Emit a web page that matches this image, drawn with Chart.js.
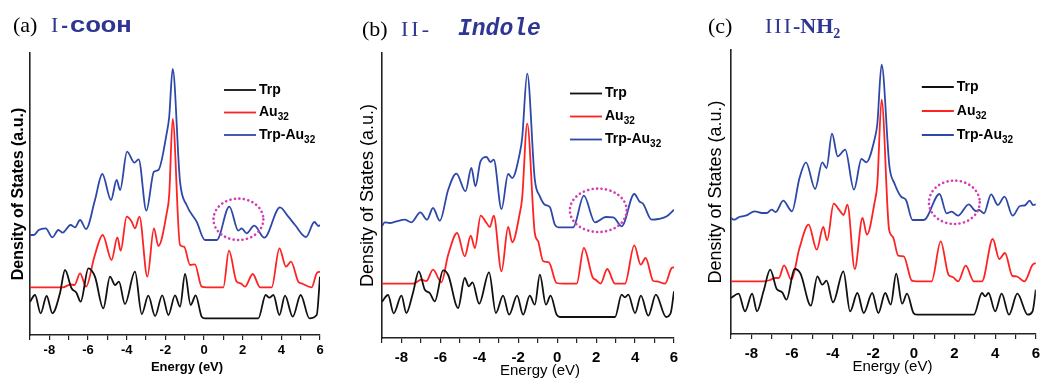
<!DOCTYPE html>
<html>
<head>
<meta charset="utf-8">
<script src="https://cdn.jsdelivr.net/npm/chart.js@4.4.0/dist/chart.umd.min.js"></script>
<style>
    body { margin: 0; background: #fff; width: 1046px; height: 379px; overflow: hidden; position: relative; }
    canvas { position: absolute; top: 0; }
    .ttl { position: absolute; white-space: nowrap; line-height: 1; color: #2e3592; z-index: 2; }
    .lab { font-family: "Liberation Serif", "Times New Roman", serif; color: #000; font-size: 22px; }
    .rom { font-family: "Liberation Serif", "Times New Roman", serif; font-size: 22px; }
    .mono { font-family: "Liberation Mono", "Courier New", monospace; font-weight: bold; }
</style>
</head>
<body>
<div class="ttl" style="left:13px;top:14px"><span class="lab">(a)</span></div>
<div class="ttl" style="left:51px;top:14px"><span class="rom">I</span><span class="mono" style="font-size:18px;margin-left:1px">-</span><span class="mono" style="font-size:19px;display:inline-block;transform:scaleX(1.35);transform-origin:left">COOH</span></div>
<div class="ttl" style="left:362px;top:18px"><span class="lab">(b)</span></div>
<div class="ttl" style="left:401px;top:18px"><span class="rom" style="letter-spacing:3px">II-</span></div>
<div class="ttl" style="left:458px;top:18px"><span class="mono" style="font-size:23px;font-style:italic">Indole</span></div>
<div class="ttl" style="left:708px;top:15px"><span class="lab">(c)</span></div>
<div class="ttl" style="left:765px;top:15px"><span class="rom" style="letter-spacing:2px">III</span><span class="rom" style="font-weight:bold">-NH<sub style="font-size:14px">2</sub></span></div>

<canvas id="panelA" width="335" height="379" style="left:0px"></canvas>
<canvas id="panelB" width="340" height="379" style="left:350px"></canvas>
<canvas id="panelC" width="350" height="379" style="left:696px"></canvas>

<script>
// energy window and series labels (same for the three panels)
const energyMin = -9;
const energyMax = 6;
const seriesNames = ['Trp', 'Au', 'Trp-Au'];
const seriesSubs = ['', '32', '32'];
const lineColors = ['#111111', '#ff2222', '#2d48a8'];

// (a) I-COOH
const trpA_E = [-9, -8.74, -8.45, -8.14, -7.84, -7.45, -7.19, -6.85, -6.6, -6.38, -5.98, -5.64, -5.21, -4.86, -4.6, -4.4, -4.09, -3.57, -3.22, -2.88, -2.53, -2.16, -1.84, -1.5, -1.24, -0.98, -0.69, -0.43, -0.12, 0.05, 2.81, 3.19, 3.38, 3.59, 3.9, 4.19, 4.59, 5.0, 5.45, 5.83, 6];
const trpA_D = [33.3, 40, 21.7, 39, 21.7, 41.7, 65, 46.7, 42.3, 33.3, 66.7, 58.3, 26.7, 58.3, 50, 53.3, 31, 63.3, 21, 39.3, 19, 39.7, 20, 39.7, 28.3, 61, 30, 39.7, 18.3, 16.7, 16.7, 40, 37.3, 40, 20, 39.3, 18.3, 40, 16.7, 20, 58.3];
const auA_E = [-9, -7.3, -6.9, -6.7, -6.41, -6.1, -5.67, -5.24, -4.78, -4.48, -4.31, -4.0, -3.74, -3.57, -3.34, -2.93, -2.59, -2.36, -1.93, -1.8, -1.62, -1.24, -1.03, -0.72, -0.47, -0.12, 0.14, 1.0, 1.29, 1.69, 1.9, 2.12, 2.52, 2.9, 3.5, 3.9, 4.24, 4.5, 4.88, 5.05, 5.57, 5.83, 6];
const auA_D = [47.7, 47.7, 50.5, 50, 61.7, 48.3, 78.3, 100, 75, 97.7, 84.3, 118.3, 113.3, 106.7, 118.3, 58.3, 106.7, 89, 121.7, 140, 216, 90, 88.3, 70, 70.7, 48.3, 47.7, 47.7, 84.3, 53.3, 51.7, 48.3, 61, 47.7, 47.7, 86.7, 68.3, 73.3, 53.3, 51.7, 47.7, 61.7, 63.3];
const mixA_E = [-9, -8.8, -8.55, -8.19, -7.84, -7.53, -7.31, -6.9, -6.67, -6.41, -6.1, -5.64, -5.26, -4.81, -4.52, -4.34, -3.98, -3.6, -3.38, -2.98, -2.59, -2.36, -1.93, -1.8, -1.62, -1.24, -0.9, -0.38, 0.05, 0.66, 1.31, 1.78, 1.95, 2.2, 2.6, 3.12, 3.93, 4.36, 4.71, 5.28, 5.71, 5.92, 6];
const mixA_D = [100, 100, 105, 106.7, 97.7, 105, 102.3, 110, 107.7, 115, 106, 135, 161, 135, 155, 145, 183.3, 172.3, 175.7, 124.3, 163.3, 165, 201.7, 218, 266, 153.3, 130, 113.3, 95, 95, 128.3, 104.3, 106.7, 101.7, 109.3, 97.3, 127.7, 118.3, 110, 98, 113, 109, 110];

// (b) II-Indole
const trpB_E = [-9, -8.69, -8.4, -8.0, -7.75, -7.41, -7.11, -6.8, -6.55, -6.29, -5.86, -5.6, -5.09, -4.75, -4.54, -4.35, -4.01, -3.5, -3.15, -2.78, -2.47, -2.06, -1.75, -1.41, -1.15, -0.89, -0.58, -0.34, -0.03, 0.14, 2.97, 3.31, 3.48, 3.65, 4.0, 4.3, 4.68, 5.07, 5.59, 5.83, 6];
const trpB_D = [36.3, 43, 24.7, 42.3, 25, 45, 66.7, 48.3, 45, 36.7, 67.7, 63, 30, 60, 51.7, 55.7, 34.3, 65.7, 25, 42.3, 23.3, 42.3, 23.3, 42.3, 33.3, 63.3, 33.3, 42.3, 23.3, 21, 21, 43.3, 40.7, 43.3, 25, 42.3, 22.3, 43.3, 21, 25, 46.7];
const auB_E = [-9, -7.4, -6.98, -6.72, -6.38, -5.95, -5.6, -5.14, -4.75, -4.44, -4.23, -3.93, -3.63, -3.46, -3.26, -2.86, -2.52, -2.31, -1.92, -1.8, -1.54, -1.15, -0.98, -0.72, -0.43, -0.03, 0.31, 1.0, 1.37, 1.82, 1.99, 2.23, 2.57, 2.97, 3.48, 3.96, 4.29, 4.54, 4.94, 5.1, 5.54, 5.88, 6];
const auB_D = [54.3, 54.3, 58.3, 57, 68.3, 55.7, 83.3, 105, 81.7, 102.3, 90, 122.3, 115, 111, 122.3, 66.7, 111, 95.7, 125, 140, 214.3, 105, 96.7, 76.7, 75.7, 55, 54.3, 54.3, 90, 60.7, 58, 54.3, 69, 54.3, 54.3, 92.7, 73.3, 80, 57, 56.7, 54.3, 70, 70.7];
const mixB_E = [-9, -8.86, -8.6, -8.26, -7.83, -7.49, -7.03, -6.69, -6.38, -6.03, -5.6, -5.18, -4.71, -4.41, -4.2, -3.94, -3.63, -3.43, -3.26, -2.86, -2.52, -2.31, -1.92, -1.8, -1.54, -1.15, -0.89, -0.63, -0.38, -0.12, 0.05, 0.82, 1.37, 1.94, 2.5, 2.88, 3.31, 3.96, 4.22, 4.42, 4.85, 5.2, 5.63, 6];
const mixB_D = [111.7, 115.7, 115, 116.7, 118.3, 115.7, 125.7, 118.3, 130, 117.3, 148.3, 164.3, 146.7, 170, 151.7, 176.7, 181, 176, 178.3, 129, 164, 160, 185, 200, 264.3, 158.3, 141.7, 133.3, 131, 113.3, 110.7, 110.7, 142.3, 115.7, 121, 120.7, 111.7, 144, 136.7, 134, 118.3, 119, 121.7, 128.3];

// (c) III-NH2
const trpC_E = [-9, -8.63, -8.31, -7.96, -7.72, -7.4, -7.07, -6.75, -6.48, -6.27, -5.87, -5.58, -5.07, -4.75, -4.51, -4.3, -3.98, -3.47, -3.14, -2.78, -2.47, -2.05, -1.75, -1.41, -1.14, -0.87, -0.58, -0.34, -0.02, 0.14, 2.95, 3.35, 3.51, 3.67, 4.0, 4.32, 4.68, 5.09, 5.6, 5.84, 6];
const trpC_D = [36, 40.3, 22.7, 40.3, 22.7, 42.7, 64.3, 45, 41.7, 34.3, 65, 60.3, 28.3, 57.7, 49.3, 53.3, 31.7, 62.7, 22.7, 41, 21, 41, 21, 41, 29.3, 60.3, 30.3, 40.3, 21, 19.3, 19.3, 41, 37.7, 41, 22.7, 40.3, 19.3, 40.3, 19.3, 22.7, 44.3];
const auC_E = [-9, -7.4, -7.07, -6.83, -6.65, -6.39, -6.03, -5.63, -5.18, -4.78, -4.46, -4.27, -3.95, -3.66, -3.46, -3.27, -2.91, -2.53, -2.31, -1.94, -1.8, -1.59, -1.22, -1.03, -0.77, -0.5, -0.1, 0.14, 0.87, 1.32, 1.7, 1.91, 2.18, 2.55, 2.95, 3.35, 3.88, 4.2, 4.48, 4.85, 5.04, 5.44, 5.84, 6];
const auC_D = [52.7, 52.7, 54, 56, 56, 68.7, 54.3, 86, 109.3, 84.3, 107, 93.7, 130.3, 123.7, 119, 129.3, 65, 116, 99.3, 131, 150, 234.3, 104.3, 97, 78.3, 77.7, 53.3, 52.7, 52.7, 92.7, 59.3, 57, 52.7, 68.3, 52.7, 52.7, 95, 75, 81, 58, 57.7, 52.7, 69.3, 71];
const mixC_E = [-9, -8.84, -8.6, -8.28, -7.83, -7.48, -7.24, -7.0, -6.8, -6.43, -6.0, -5.63, -5.31, -4.86, -4.51, -4.3, -4.03, -3.75, -3.38, -2.95, -2.58, -2.34, -1.94, -1.8, -1.59, -1.2, -0.96, -0.63, -0.39, -0.07, 0.49, 1.26, 1.61, 1.85, 2.17, 2.7, 3.05, 3.2, 3.45, 3.8, 4.13, 4.46, 4.86, 5.22, 5.45, 5.7, 5.86, 6];
const mixC_D = [116, 114.3, 117, 118.3, 122.7, 121, 121, 124.3, 122, 133.3, 122.7, 156, 171.7, 145, 171.7, 166, 200.3, 177.7, 184.3, 144.3, 175, 171.7, 194.3, 210, 269.3, 167, 150.7, 137.3, 134, 114, 114, 140, 120.7, 122.3, 118.3, 129.7, 123, 124, 120.7, 139.7, 129, 137.3, 118.3, 128, 128.5, 133.3, 129, 129.5];

// dotted rings: [centre E, centre DOS, half width E, half height DOS]
const ringA = [1.78, 115.7, 1.29, 20.7];
const ringB = [2.11, 127.7, 1.46, 21.7];
const ringC = [1.99, 131.7, 1.25, 21.7];

function toPoints(es, ds) {
    return es.map((e, i) => ({ x: e, y: ds[i] }));
}

const panelExtras = {
    id: 'panelExtras',
    afterDatasetsDraw(chart, args, opts) {
        const { ctx, chartArea, scales: { x, y } } = chart;

        // magenta dotted ring
        const r = opts.ring;
        const cx = x.getPixelForValue(r[0]);
        const cy = y.getPixelForValue(r[1]);
        const rx = x.getPixelForValue(r[0] + r[2]) - cx;
        const ry = cy - y.getPixelForValue(r[1] + r[3]);
        ctx.save();
        ctx.strokeStyle = '#d43cb4';
        ctx.lineWidth = 2.6;
        ctx.lineCap = 'round';
        ctx.setLineDash([0.1, 4.4]);
        ctx.beginPath();
        ctx.ellipse(cx, cy, rx, ry, 0, 0, Math.PI * 2);
        ctx.stroke();
        ctx.restore();

        // legend with subscripts
        ctx.save();
        const x0 = chartArea.right - opts.legendRight;
        chart.data.datasets.forEach((ds, i) => {
            const ly = opts.legendTop + i * opts.legendGap;
            ctx.strokeStyle = ds.borderColor;
            ctx.lineWidth = 1.8;
            ctx.beginPath();
            ctx.moveTo(x0, ly);
            ctx.lineTo(x0 + 32, ly);
            ctx.stroke();
            ctx.fillStyle = '#000';
            ctx.textBaseline = 'middle';
            ctx.font = 'bold 14px Arial, "Liberation Sans", sans-serif';
            ctx.fillText(ds.label, x0 + 35, ly);
            if (ds.sub) {
                const w = ctx.measureText(ds.label).width;
                ctx.font = 'bold 10px Arial, "Liberation Sans", sans-serif';
                ctx.fillText(ds.sub, x0 + 35 + w, ly + 5);
            }
        });

        // x axis title
        ctx.font = opts.xTitleFont;
        ctx.textAlign = 'center';
        ctx.textBaseline = 'alphabetic';
        ctx.fillText('Energy (eV)', (chartArea.left + chartArea.right) / 2 + opts.xTitleShift, opts.xTitleY);
        ctx.restore();
    }
};

function makePanel(canvasId, cfg) {
    const datasets = cfg.series.map((s, i) => ({
        label: seriesNames[i],
        sub: seriesSubs[i],
        data: toPoints(s[0], s[1]),
        borderColor: lineColors[i],
        borderWidth: 1.8,
        pointRadius: 0,
        cubicInterpolationMode: 'monotone',
        fill: false
    }));

    return new Chart(document.getElementById(canvasId), {
        type: 'line',
        data: { datasets: datasets },
        options: {
            responsive: false,
            animation: false,
            devicePixelRatio: 1,
            layout: { padding: { top: cfg.top, right: cfg.right, left: 0, bottom: 0 } },
            plugins: {
                legend: { display: false },
                tooltip: { enabled: false },
                panelExtras: {
                    ring: cfg.ring,
                    legendRight: cfg.legendRight,
                    legendTop: cfg.legendTop,
                    legendGap: cfg.legendGap,
                    xTitleFont: cfg.xTitleFont,
                    xTitleShift: cfg.xTitleShift,
                    xTitleY: cfg.xTitleY
                }
            },
            scales: {
                x: {
                    type: 'linear',
                    min: energyMin,
                    max: energyMax,
                    afterFit: s => { s.height = cfg.xAxisH; },
                    ticks: {
                        stepSize: 1,
                        autoSkip: false,
                        maxRotation: 0,
                        padding: cfg.tickPad,
                        color: '#000',
                        font: { family: 'Arial, "Liberation Sans", sans-serif', weight: 'bold', size: cfg.tickSize },
                        callback: v => (v % 2 === 0 ? String(v) : '')
                    },
                    grid: { drawOnChartArea: false, drawTicks: true, tickLength: 5, color: '#222', lineWidth: 1.2 },
                    border: { display: true, color: '#222', width: 1.6 }
                },
                y: {
                    min: 0,
                    max: cfg.yMax,
                    afterFit: s => { s.width = cfg.yAxisW; },
                    ticks: { display: false },
                    grid: { display: true, drawOnChartArea: false, drawTicks: false },
                    border: { display: true, color: '#222', width: 1.6 },
                    title: {
                        display: true,
                        text: 'Density of States (a.u.)',
                        color: '#000',
                        padding: { top: cfg.yTitlePad, bottom: 0 },
                        font: { family: 'Arial, "Liberation Sans", sans-serif', size: cfg.yTitleSize, weight: cfg.yTitleWeight }
                    }
                }
            }
        },
        plugins: [panelExtras]
    });
}

makePanel('panelA', {
    series: [[trpA_E, trpA_D], [auA_E, auA_D], [mixA_E, mixA_D]],
    ring: ringA,
    top: 53, right: 15, yAxisW: 30, xAxisH: 44, yMax: 282,
    tickPad: 3, tickSize: 13,
    yTitleSize: 16, yTitleWeight: 'bold', yTitlePad: 9,
    legendRight: 96, legendTop: 90, legendGap: 22.5,
    xTitleFont: 'bold 13px Arial, "Liberation Sans", sans-serif', xTitleShift: 12, xTitleY: 371
});

makePanel('panelB', {
    series: [[trpB_E, trpB_D], [auB_E, auB_D], [mixB_E, mixB_D]],
    ring: ringB,
    top: 53, right: 16, yAxisW: 32, xAxisH: 41, yMax: 285,
    tickPad: 6, tickSize: 15,
    yTitleSize: 18, yTitleWeight: 'normal', yTitlePad: 7,
    legendRight: 104, legendTop: 93.5, legendGap: 23,
    xTitleFont: '15px Arial, "Liberation Sans", sans-serif', xTitleShift: 12, xTitleY: 375
});

makePanel('panelC', {
    series: [[trpC_E, trpC_D], [auC_E, auC_D], [mixC_E, mixC_D]],
    ring: ringC,
    top: 50, right: 3, yAxisW: 35, xAxisH: 45, yMax: 284,
    tickPad: 6, tickSize: 15,
    yTitleSize: 18, yTitleWeight: 'normal', yTitlePad: 9,
    legendRight: 114, legendTop: 87, legendGap: 24,
    xTitleFont: '15px Arial, "Liberation Sans", sans-serif', xTitleShift: 9, xTitleY: 371
});
</script>
</body>
</html>
